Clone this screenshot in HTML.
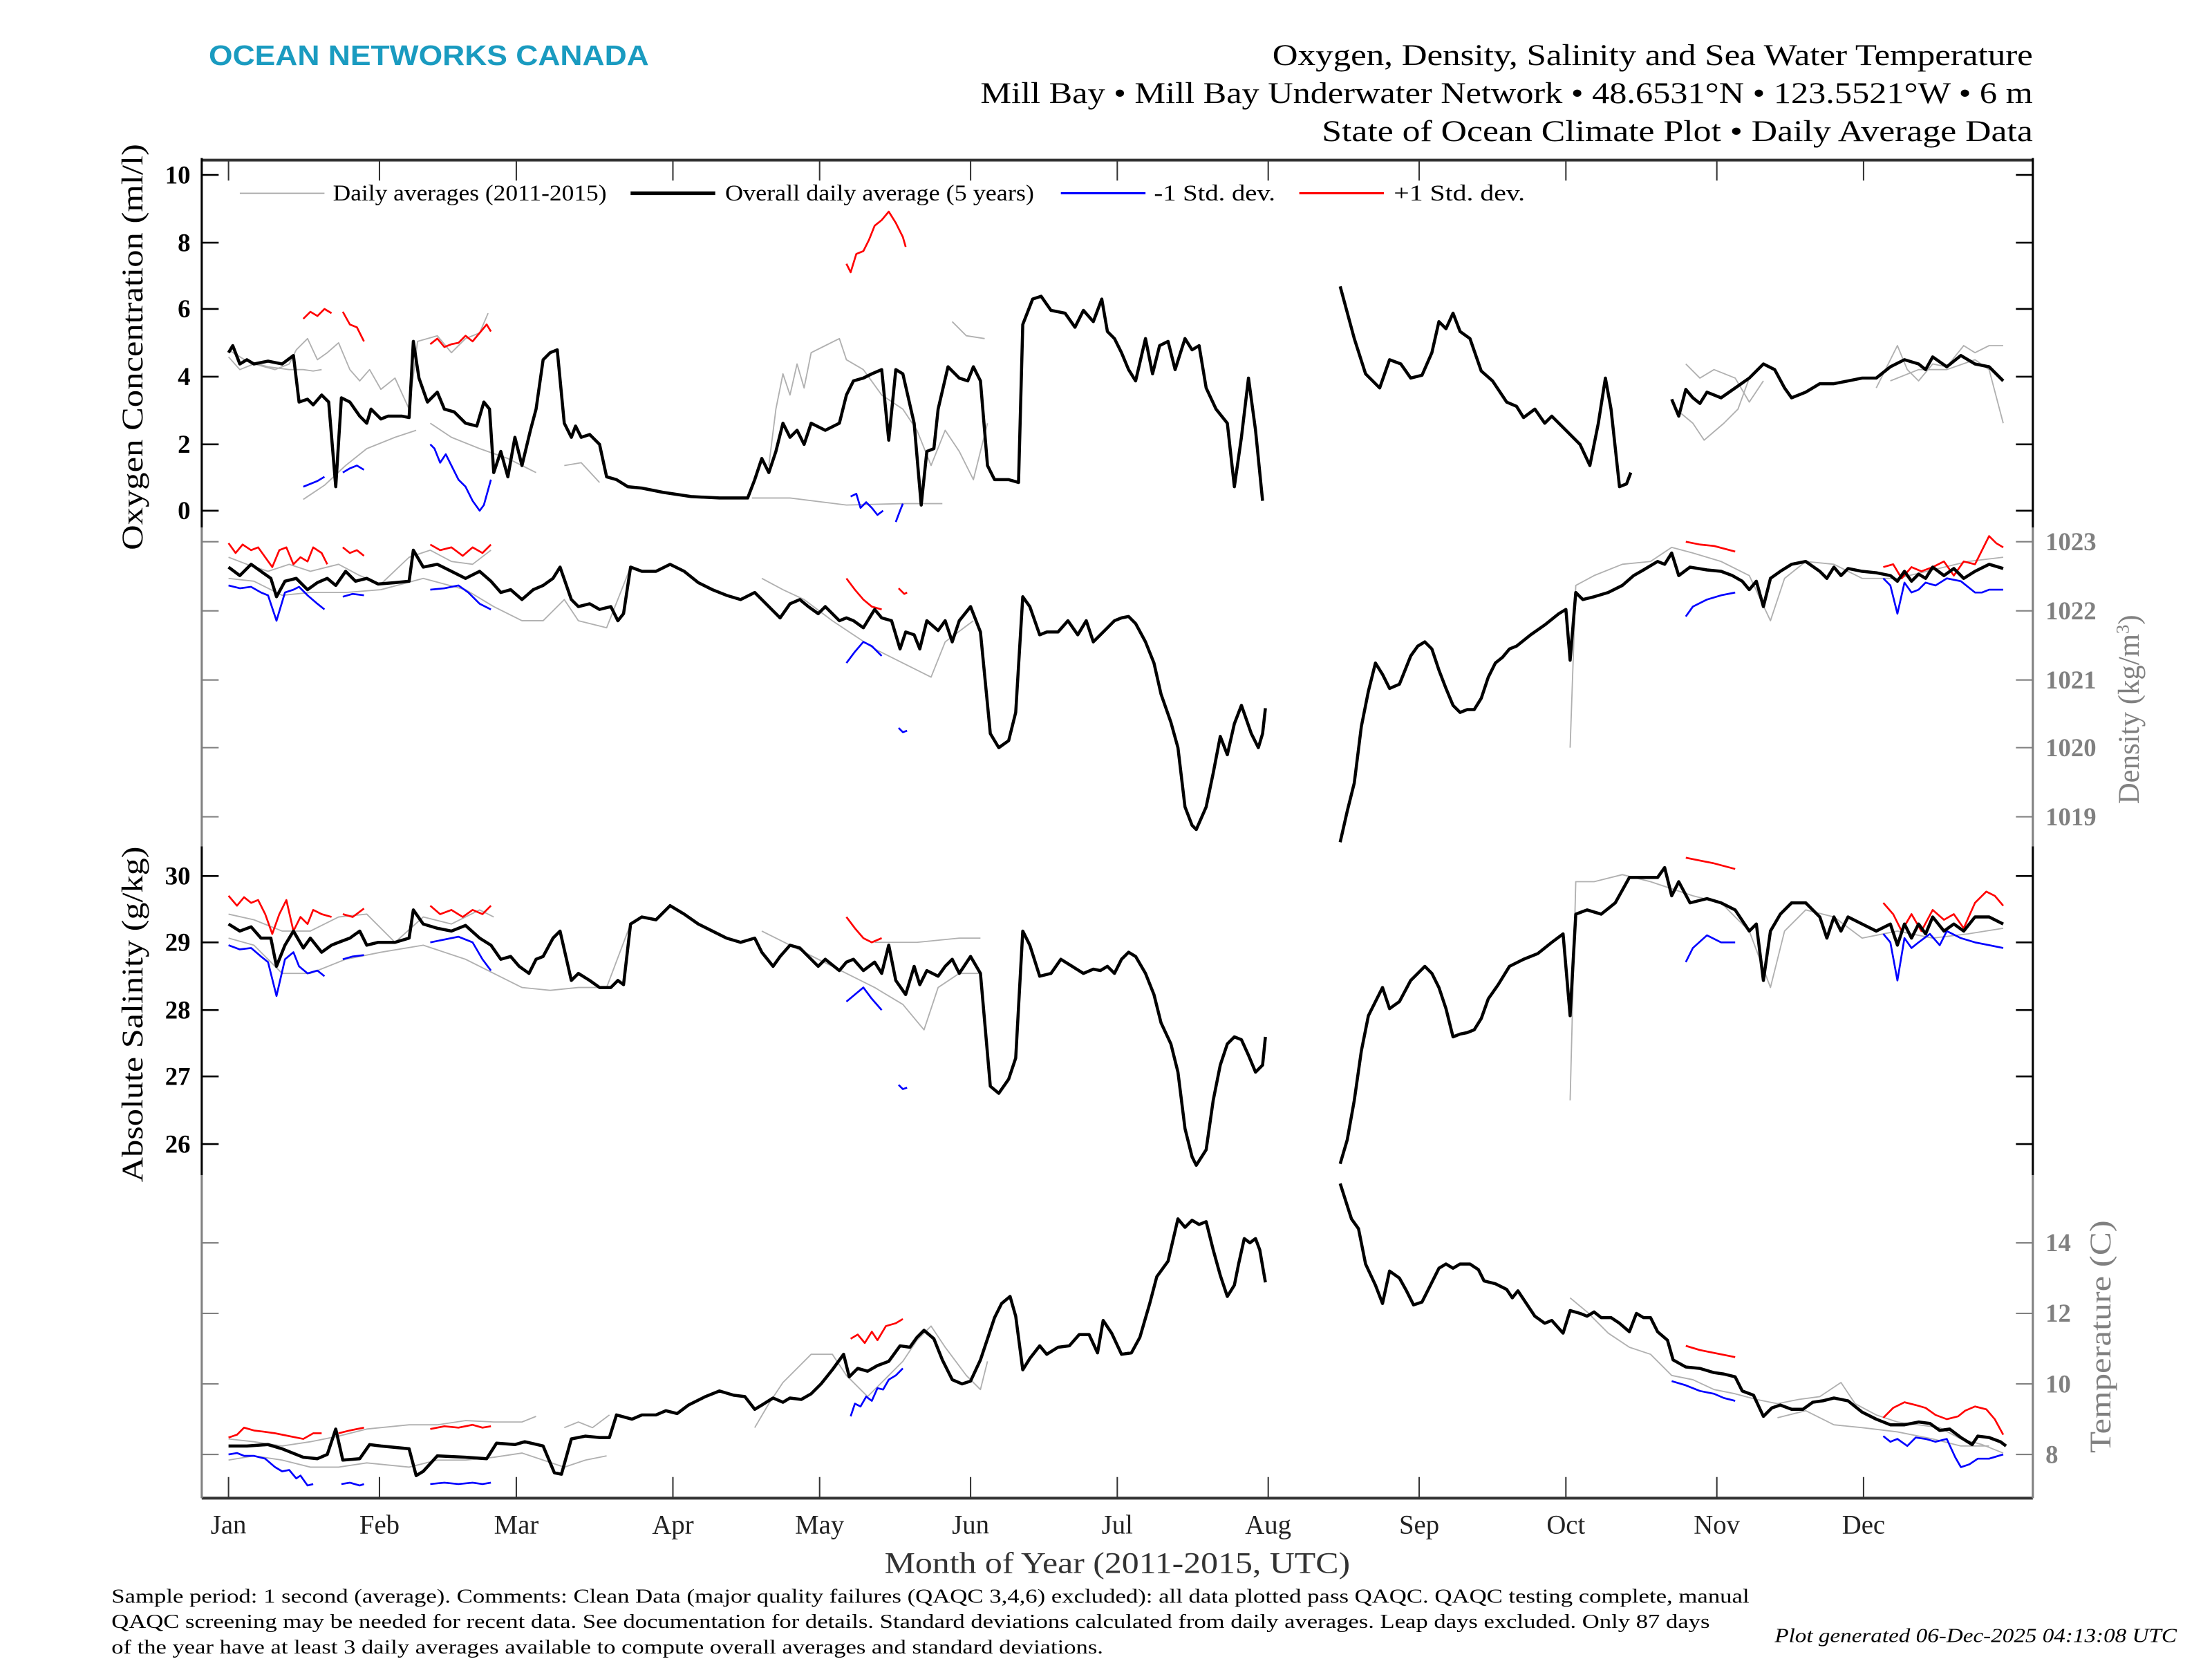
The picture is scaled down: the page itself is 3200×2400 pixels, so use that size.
<!DOCTYPE html>
<html><head><meta charset="utf-8"><style>
html,body{margin:0;padding:0;background:#fff;}
svg{display:block;}
text{font-family:"Liberation Serif",serif;}
</style></head><body>
<svg width="3200" height="2400" viewBox="0 0 1568 1176" preserveAspectRatio="none" xmlns="http://www.w3.org/2000/svg">
<rect width="1568" height="1176" fill="#fff"/>
<!-- header -->
<text x="148" y="46" font-weight="bold" font-size="20" fill="#1a9bc0" textLength="312" lengthAdjust="spacingAndGlyphs" style="font-family:'Liberation Sans',sans-serif">OCEAN NETWORKS CANADA</text>
<g font-size="21" fill="#000">
<text x="902" y="46" textLength="539" lengthAdjust="spacingAndGlyphs">Oxygen, Density, Salinity and Sea Water Temperature</text>
<text x="695" y="73" textLength="746" lengthAdjust="spacingAndGlyphs">Mill Bay • Mill Bay Underwater Network • 48.6531°N • 123.5521°W • 6 m</text>
<text x="937" y="100" textLength="504" lengthAdjust="spacingAndGlyphs">State of Ocean Climate Plot • Daily Average Data</text>
</g>
<!-- frame -->
<line x1="143" y1="113.5" x2="1441" y2="113.5" stroke="#333" stroke-width="2"/>
<line x1="143" y1="1062" x2="1441" y2="1062" stroke="#333" stroke-width="2"/>
<g stroke-width="1.5">
<line x1="143" y1="112" x2="143" y2="374" stroke="#000"/>
<line x1="143" y1="374" x2="143" y2="600" stroke="#808080"/>
<line x1="143" y1="600" x2="143" y2="833" stroke="#000"/>
<line x1="143" y1="833" x2="143" y2="1062" stroke="#808080"/>
<line x1="1441" y1="112" x2="1441" y2="374" stroke="#000"/>
<line x1="1441" y1="374" x2="1441" y2="600" stroke="#808080"/>
<line x1="1441" y1="600" x2="1441" y2="833" stroke="#000"/>
<line x1="1441" y1="833" x2="1441" y2="1062" stroke="#808080"/>
</g>
<!-- month ticks -->
<g stroke="#333" stroke-width="1">
<path d="M162 113v15M269 113v15M366 113v15M477 113v15M581 113v15M688 113v15M792 113v15M899 113v15M1006 113v15M1110 113v15M1217 113v15M1321 113v15"/>
<path d="M162 1062v-15M269 1062v-15M366 1062v-15M477 1062v-15M581 1062v-15M688 1062v-15M792 1062v-15M899 1062v-15M1006 1062v-15M1110 1062v-15M1217 1062v-15M1321 1062v-15"/>
</g>
<g font-size="19" fill="#222" text-anchor="middle">
<text x="162" y="1087">Jan</text><text x="269" y="1087">Feb</text><text x="366" y="1087">Mar</text><text x="477" y="1087">Apr</text><text x="581" y="1087">May</text><text x="688" y="1087">Jun</text><text x="792" y="1087">Jul</text><text x="899" y="1087">Aug</text><text x="1006" y="1087">Sep</text><text x="1110" y="1087">Oct</text><text x="1217" y="1087">Nov</text><text x="1321" y="1087">Dec</text>
</g>
<text x="627" y="1115" font-size="21" fill="#333" textLength="330" lengthAdjust="spacingAndGlyphs">Month of Year (2011-2015, UTC)</text>
<!-- axes ticks -->
<g stroke="#000" stroke-width="1.3">
<path d="M143 124h12M143 172h12M143 219h12M143 267h12M143 315h12M143 362h12"/>
<path d="M1441 124h-12M1441 172h-12M1441 219h-12M1441 267h-12M1441 315h-12M1441 362h-12"/>
<path d="M143 621h12M143 668h12M143 716h12M143 763h12M143 811h12"/>
<path d="M1441 621h-12M1441 668h-12M1441 716h-12M1441 763h-12M1441 811h-12"/>
</g>
<g stroke="#808080" stroke-width="1">
<path d="M143 384h12M143 433h12M143 482h12M143 530h12M143 579h12M1441 384h-12M1441 433h-12M1441 482h-12M1441 530h-12M1441 579h-12"/>
<path d="M143 881h12M143 931h12M143 981h12M143 1031h12M1441 881h-12M1441 931h-12M1441 981h-12M1441 1031h-12"/>
</g>
<g font-size="18" fill="#000" text-anchor="end" font-weight="bold">
<text x="135" y="130">10</text><text x="135" y="178">8</text><text x="135" y="225">6</text><text x="135" y="273">4</text><text x="135" y="321">2</text><text x="135" y="368">0</text>
<text x="135" y="627">30</text><text x="135" y="674">29</text><text x="135" y="722">28</text><text x="135" y="769">27</text><text x="135" y="817">26</text>
</g>
<g font-size="18" fill="#808080" font-weight="bold">
<text x="1450" y="390">1023</text><text x="1450" y="439">1022</text><text x="1450" y="488">1021</text><text x="1450" y="536">1020</text><text x="1450" y="585">1019</text>
<text x="1450" y="887">14</text><text x="1450" y="937">12</text><text x="1450" y="987">10</text><text x="1450" y="1037">8</text>
</g>
<text transform="translate(101,390) rotate(-90)" font-size="21" fill="#000" textLength="288" lengthAdjust="spacingAndGlyphs">Oxygen Concentration (ml/l)</text>
<text transform="translate(101,838) rotate(-90)" font-size="21" fill="#000" textLength="238" lengthAdjust="spacingAndGlyphs">Absolute Salinity (g/kg)</text>
<text transform="translate(1516,570) rotate(-90)" font-size="21" fill="#808080">Density (kg/m<tspan dy="-7" font-size="13">3</tspan><tspan dy="7">)</tspan></text>
<text transform="translate(1496,1030) rotate(-90)" font-size="21" fill="#808080" textLength="165" lengthAdjust="spacingAndGlyphs">Temperature (C)</text>
<!-- legend -->
<g font-size="16" fill="#000">
<line x1="170" y1="137" x2="230" y2="137" stroke="#aaa" stroke-width="1"/><text x="236" y="142" textLength="194" lengthAdjust="spacingAndGlyphs">Daily averages (2011-2015)</text>
<line x1="447" y1="137" x2="507" y2="137" stroke="#000" stroke-width="2.5"/><text x="514" y="142" textLength="219" lengthAdjust="spacingAndGlyphs">Overall daily average (5 years)</text>
<line x1="752" y1="137" x2="812" y2="137" stroke="#00f" stroke-width="1.5"/><text x="818" y="142" textLength="86" lengthAdjust="spacingAndGlyphs">-1 Std. dev.</text>
<line x1="921" y1="137" x2="981" y2="137" stroke="#f00" stroke-width="1.5"/><text x="988" y="142" textLength="93" lengthAdjust="spacingAndGlyphs">+1 Std. dev.</text>
</g>
<g fill="none" stroke-linejoin="round">
<g stroke="#b0b0b0" stroke-width="0.9">
<polyline points="162,253 170,262 180,258 195,262 205,258 210,248 218,240 225,255 232,250 240,243 248,262 255,270 262,262 270,276 280,268 290,290 296,242 310,238 320,250 330,240 340,236 346,222"/>
<polyline points="162,248 175,256 190,260 205,262 215,262 222,263 228,262"/>
<polyline points="215,354 230,344 245,330 260,318 280,310 295,305"/>
<polyline points="305,300 320,310 340,318 360,325 380,335"/>
<polyline points="400,330 412,328 425,342"/>
<polyline points="545,330 550,290 555,265 560,280 565,258 570,275 575,250 585,245 595,240 600,255 612,262 625,280 640,290 650,305 660,330 670,305 680,320 690,340 700,300"/>
<polyline points="533,353 560,353 600,358 640,357 668,357"/>
<polyline points="675,228 685,238 698,240"/>
<polyline points="1195,258 1205,268 1215,262 1230,268 1240,285 1250,270"/>
<polyline points="1188,290 1200,300 1208,312 1222,300 1232,290 1240,268"/>
<polyline points="1330,275 1345,245 1352,262 1360,270 1370,258 1380,260 1392,245 1400,250 1410,245 1420,245"/>
<polyline points="1340,270 1360,262 1380,262 1400,255 1410,262 1420,300"/>
<polyline points="162,395 175,400 190,405 205,400 220,405 240,400 255,408 270,414 290,395 305,390 320,398 335,400 348,390"/>
<polyline points="162,410 180,412 200,422 220,420 245,420 270,418 300,410 330,418 350,430 370,440 385,440 400,425 410,440 430,445 447,402"/>
<polyline points="540,410 555,418 570,425 590,440 605,450 620,460 640,470 660,480 670,455 690,440"/>
<polyline points="1113,530 1117,415 1130,408 1150,400 1170,398 1185,388 1200,392 1220,398 1240,408 1255,440 1265,410 1280,398 1300,400 1320,410 1345,410 1370,404 1395,398 1420,395"/>
<polyline points="162,648 180,652 200,660 220,660 240,650 260,648 280,668 300,650 320,655 340,645 350,650"/>
<polyline points="162,665 180,670 200,690 220,690 245,680 270,675 300,670 330,680 350,690 370,700 390,702 410,700 430,700 447,655"/>
<polyline points="540,660 560,670 580,680 600,690 620,700 640,712 655,730 665,700 680,690 695,690"/>
<polyline points="620,668 650,668 680,665 695,665"/>
<polyline points="1113,780 1117,625 1130,625 1150,620 1170,625 1185,630 1200,635 1220,640 1240,660 1255,700 1265,660 1280,645 1300,650 1320,665 1345,660 1370,665 1395,662 1420,658"/>
<polyline points="162,1020 180,1022 200,1025 220,1022 240,1018 260,1013 290,1010 310,1010 330,1007 350,1008 370,1008 380,1004"/>
<polyline points="162,1035 180,1032 200,1035 220,1040 240,1040 260,1037 290,1040 310,1035 330,1035 350,1033 370,1030 385,1035 400,1040"/>
<polyline points="400,1012 410,1008 420,1012 432,1003"/>
<polyline points="400,1040 415,1035 430,1032"/>
<polyline points="535,1012 545,995 555,980 565,970 575,960 590,960 600,975 615,990 630,975 640,965 650,950 660,940 670,955 685,975 695,985 700,965"/>
<polyline points="1113,920 1125,930 1140,945 1155,955 1170,960 1185,975 1200,978 1215,985 1230,988 1245,992 1260,995 1275,992 1290,990 1305,980 1315,995 1330,1003 1345,1008 1360,1010 1375,1012 1390,1020 1405,1024 1420,1030"/>
<polyline points="1260,1005 1280,1000 1300,1010 1320,1012 1345,1015 1370,1020 1390,1025 1410,1025"/>
</g>
<g stroke="#f00" stroke-width="1.3">
<polyline points="215,226 220,221 225,224 230,219 235,222"/>
<polyline points="243,221 248,230 253,232 258,242"/>
<polyline points="305,244 310,240 315,246 320,244 325,243 330,238 335,242 340,236 345,230 348,235"/>
<polyline points="600,187 603,193 607,180 612,178 616,170 620,160 625,156 630,150 635,158 640,168 642,175"/>
<polyline points="162,385 167,392 172,386 178,390 183,388 188,395 193,402 198,390 203,388 208,400 213,395 218,398 222,388 228,392 232,400"/>
<polyline points="243,388 248,392 253,390 258,394"/>
<polyline points="305,386 312,390 320,388 328,394 335,388 342,392 348,386"/>
<polyline points="600,410 606,418 612,425 618,430 625,432"/>
<polyline points="637,417 641,421 643,420"/>
<polyline points="1195,384 1205,386 1215,387 1230,391"/>
<polyline points="1335,402 1342,400 1348,410 1355,402 1362,405 1370,402 1378,398 1385,408 1392,398 1400,400 1410,380 1415,385 1420,388"/>
<polyline points="162,635 168,642 173,636 178,640 183,638 188,648 193,662 198,648 203,638 208,660 213,650 218,655 222,645 228,648 235,650"/>
<polyline points="243,648 250,650 258,644"/>
<polyline points="305,642 312,648 320,645 328,650 335,645 342,648 348,642"/>
<polyline points="600,650 606,658 612,665 618,668 625,665"/>
<polyline points="1195,608 1205,610 1215,612 1230,616"/>
<polyline points="1335,640 1342,648 1348,660 1355,648 1362,660 1370,645 1378,652 1385,648 1392,658 1400,640 1408,632 1414,635 1420,642"/>
<polyline points="162,1019 168,1017 173,1012 180,1014 188,1015 195,1016 205,1018 215,1020 222,1016 228,1016"/>
<polyline points="240,1016 248,1014 258,1012"/>
<polyline points="305,1013 315,1011 325,1012 335,1010 342,1012 348,1011"/>
<polyline points="603,949 608,946 613,952 618,944 622,950 628,940 635,938 640,935"/>
<polyline points="1195,954 1205,957 1215,959 1230,962"/>
<polyline points="1335,1005 1342,998 1350,994 1358,996 1365,998 1372,1003 1380,1006 1388,1004 1393,1000 1400,997 1408,999 1414,1006 1420,1017"/>
</g>
<g stroke="#00f" stroke-width="1.3">
<polyline points="215,345 220,343 225,341 230,338"/>
<polyline points="243,335 248,332 253,330 258,333"/>
<polyline points="305,315 308,318 312,328 316,322 320,330 325,340 330,345 335,355 340,362 343,358 348,340"/>
<polyline points="603,352 607,350 610,360 614,356 618,360 622,365 626,362"/>
<polyline points="635,370 638,362 640,357"/>
<polyline points="162,415 170,417 178,416 185,420 190,422 196,440 202,420 208,418 212,416 218,422 225,428 230,432"/>
<polyline points="243,423 250,421 258,422"/>
<polyline points="305,418 315,417 325,415 332,420 340,428 348,432"/>
<polyline points="600,470 606,462 612,455 618,458 625,465"/>
<polyline points="637,516 640,519 643,518"/>
<polyline points="1195,437 1200,430 1210,425 1220,422 1230,420"/>
<polyline points="1335,410 1340,415 1345,435 1350,413 1355,420 1360,418 1365,413 1372,415 1380,410 1390,412 1400,420 1405,420 1410,418 1420,418"/>
<polyline points="162,670 170,673 178,672 185,678 190,682 196,706 202,680 208,675 212,685 218,690 225,688 230,692"/>
<polyline points="243,680 250,678 258,677"/>
<polyline points="305,668 315,666 325,664 335,668 342,680 348,688"/>
<polyline points="600,710 606,705 612,700 618,708 625,716"/>
<polyline points="637,769 640,772 643,771"/>
<polyline points="1195,682 1200,672 1210,663 1220,668 1230,668"/>
<polyline points="1335,662 1340,668 1345,695 1350,665 1355,672 1360,668 1368,662 1375,670 1380,660 1390,665 1400,668 1410,670 1420,672"/>
<polyline points="162,1031 168,1030 173,1032 180,1032 188,1034 195,1040 200,1043 205,1042 210,1048 213,1046 218,1053 222,1052"/>
<polyline points="242,1052 248,1051 255,1053 258,1052"/>
<polyline points="305,1052 315,1051 325,1052 335,1051 342,1052 348,1051"/>
<polyline points="603,1004 606,995 610,997 614,990 618,993 622,984 626,985 630,978 635,975 640,970"/>
<polyline points="1185,979 1195,982 1205,986 1215,988 1222,991 1230,993"/>
<polyline points="1335,1018 1340,1022 1345,1020 1352,1025 1358,1019 1365,1020 1372,1022 1380,1020 1386,1033 1390,1040 1396,1038 1402,1034 1410,1034 1420,1031"/>
</g>
<g stroke="#000" stroke-width="2.2">
<polyline points="162,250 165,245 170,258 175,255 180,258 190,256 200,258 208,252 212,285 218,283 222,287 228,280 233,285 238,345 242,282 248,285 255,295 260,300 263,290 270,297 275,295 285,295 290,296 293,242 297,268 303,285 310,278 315,290 322,292 330,300 338,302 343,285 347,290 350,335 355,320 360,338 365,310 370,330 376,305 380,290 385,255 390,250 395,248 400,300 405,310 408,302 412,310 418,308 425,315 430,338 437,340 445,345 455,346 470,349 490,352 510,353 530,353 535,340 540,325 545,335 550,320 555,300 560,310 565,305 570,315 575,300 585,305 595,300 600,280 605,270 612,268 618,265 625,262 630,312 635,262 640,265 648,300 653,358 657,320 662,318 665,290 672,260 680,268 686,270 690,260 695,270 700,330 705,340 715,340 722,342 725,230 732,212 738,210 745,220 755,222 762,232 768,220 775,228 781,212 785,235 790,240 795,250 800,262 805,270 812,240 817,265 822,245 828,242 833,262 840,240 845,248 850,245 855,275 862,290 870,300 875,345 880,310 885,268 890,305 895,355"/>
<polyline points="950,203 960,240 968,265 978,275 985,255 993,258 1000,268 1008,266 1015,250 1020,228 1025,233 1030,222 1035,235 1042,240 1050,263 1058,270 1068,285 1075,288 1080,296 1088,290 1095,300 1100,295 1110,305 1120,315 1127,330 1133,300 1138,268 1142,290 1148,345 1153,343 1156,335"/>
<polyline points="1185,283 1190,295 1195,276 1200,282 1205,286 1210,278 1220,282 1230,275 1240,268 1250,258 1258,262 1265,275 1270,282 1280,278 1290,272 1300,272 1310,270 1320,268 1330,268 1340,260 1350,255 1360,258 1365,262 1370,253 1380,260 1390,252 1400,258 1410,260 1420,270"/>
<polyline points="162,402 170,408 178,400 185,405 192,410 196,423 202,412 210,410 218,418 225,413 232,410 238,415 245,405 252,412 260,410 268,414 280,413 290,412 293,390 300,402 310,400 320,405 330,410 340,405 348,412 355,420 362,418 370,425 378,418 385,415 392,410 397,402 405,425 410,430 418,428 425,432 433,430 438,440 442,435 447,402 455,405 465,405 475,400 485,405 495,413 505,418 515,422 525,425 535,420 540,425 548,433 553,438 560,428 567,425 573,430 580,435 585,430 595,440 600,438 605,440 612,445 620,432 625,438 632,440 638,460 642,448 648,450 652,460 657,440 665,447 670,440 675,455 680,440 688,430 695,448 702,520 708,530 715,525 720,505 725,423 730,430 737,450 742,448 750,448 757,440 764,450 770,440 775,455 780,450 785,445 790,440 795,438 800,437 805,442 812,455 818,470 823,492 830,512 835,530 840,572 845,585 848,588 855,572 860,548 865,522 870,535 875,513 880,500 887,520 892,530 895,520 897,502"/>
<polyline points="950,597 955,575 960,555 965,515 970,490 975,470 980,478 985,488 992,485 1000,465 1005,458 1010,455 1015,460 1020,475 1025,488 1030,500 1035,505 1040,503 1045,503 1050,495 1055,480 1060,470 1065,466 1070,460 1075,458 1085,450 1095,443 1105,435 1110,432 1113,468 1117,420 1122,425 1130,423 1140,420 1150,415 1158,408 1165,404 1175,398 1180,400 1185,392 1190,408 1198,402 1210,404 1220,405 1228,408 1235,412 1240,418 1245,412 1250,430 1255,410 1262,405 1270,400 1280,398 1290,405 1295,410 1300,402 1305,408 1310,403 1320,405 1330,406 1340,408 1345,412 1350,405 1355,412 1360,407 1365,410 1370,402 1378,408 1385,403 1392,410 1400,405 1410,400 1420,403"/>
<polyline points="162,655 170,660 178,657 185,665 192,665 196,685 202,670 208,660 215,672 220,665 228,675 235,670 240,668 248,665 255,660 260,670 268,668 280,668 290,665 293,645 300,655 310,658 320,660 330,656 340,665 348,670 355,680 362,678 368,685 375,690 380,680 385,678 392,665 397,660 405,695 410,690 418,695 425,700 433,700 438,695 442,698 447,655 455,650 465,652 475,642 485,648 495,655 505,660 515,665 525,668 535,665 540,675 548,685 553,678 560,670 567,672 573,678 580,685 585,680 595,688 600,682 605,680 612,688 620,682 625,690 630,670 635,695 642,705 648,685 652,698 657,688 665,692 670,685 675,680 680,690 688,678 695,690 702,770 708,775 715,765 720,750 725,660 730,670 737,692 745,690 752,680 760,685 768,690 775,687 780,688 785,685 790,690 795,680 800,675 805,678 812,690 818,705 823,725 830,740 835,760 840,800 845,820 848,826 855,815 860,780 865,755 870,740 875,735 880,737 885,748 890,760 895,755 897,735"/>
<polyline points="950,825 955,808 960,780 965,745 970,720 975,710 980,700 985,715 992,710 1000,695 1005,690 1010,685 1015,690 1020,700 1025,715 1030,735 1035,733 1040,732 1045,730 1050,722 1055,708 1062,698 1070,685 1080,680 1090,676 1100,668 1108,662 1113,720 1117,648 1125,645 1135,648 1145,640 1155,622 1165,622 1175,622 1180,615 1185,635 1190,625 1198,640 1210,637 1220,640 1230,645 1240,660 1245,655 1250,695 1255,660 1262,648 1270,640 1280,640 1290,650 1295,665 1300,650 1305,660 1310,650 1320,655 1330,660 1340,655 1345,670 1350,655 1355,665 1360,655 1365,662 1370,650 1378,660 1385,655 1392,660 1400,650 1410,650 1420,655"/>
<polyline points="162,1025 175,1025 190,1024 200,1027 215,1033 225,1034 232,1031 238,1013 243,1035 255,1034 262,1024 270,1025 290,1027 295,1046 300,1043 310,1032 330,1033 345,1034 352,1023 365,1024 372,1022 385,1025 393,1044 398,1045 405,1020 415,1018 425,1019 432,1019 437,1003 448,1006 455,1003 465,1003 472,1000 480,1002 488,996 500,990 510,986 520,989 528,990 535,999 540,996 548,991 555,994 560,991 568,992 575,988 582,981 590,971 598,960 602,976 608,970 615,972 622,968 630,965 638,954 645,955 650,948 655,943 662,949 668,964 675,978 682,981 688,979 695,964 700,949 705,934 710,924 716,919 720,933 725,971 730,963 737,954 742,960 750,955 758,954 765,946 772,946 778,959 782,936 788,945 795,960 802,959 808,948 815,924 820,905 828,894 835,864 840,870 845,865 850,868 855,866 860,886 865,904 870,919 875,911 878,896 882,878 886,881 890,878 893,886 897,909"/>
<polyline points="950,839 958,864 963,871 968,896 975,911 980,924 985,901 992,906 997,915 1002,925 1008,923 1015,909 1020,899 1025,896 1030,899 1035,896 1042,896 1048,900 1052,908 1060,910 1068,914 1072,920 1076,915 1082,924 1088,933 1095,938 1100,936 1108,945 1113,929 1120,931 1125,933 1130,930 1135,934 1142,934 1148,938 1155,944 1160,931 1165,934 1170,934 1175,944 1182,950 1186,964 1195,969 1205,970 1215,973 1222,974 1230,976 1235,986 1243,989 1250,1004 1256,998 1262,996 1270,999 1278,999 1285,994 1292,993 1300,991 1310,993 1320,1001 1330,1006 1340,1010 1350,1010 1360,1008 1368,1009 1375,1014 1382,1013 1390,1019 1398,1024 1402,1018 1410,1019 1418,1022 1422,1025"/>
</g>
</g>
<!-- footer -->
<g font-size="14" fill="#000">
<text x="79" y="1136" textLength="1161" lengthAdjust="spacingAndGlyphs">Sample period: 1 second (average). Comments: Clean Data (major quality failures (QAQC 3,4,6) excluded): all data plotted pass QAQC. QAQC testing complete, manual</text>
<text x="79" y="1154" textLength="1133" lengthAdjust="spacingAndGlyphs">QAQC screening may be needed for recent data. See documentation for details. Standard deviations calculated from daily averages. Leap days excluded. Only 87 days</text>
<text x="79" y="1172" textLength="703" lengthAdjust="spacingAndGlyphs">of the year have at least 3 daily averages available to compute overall averages and standard deviations.</text>
<text x="1258" y="1164" font-style="italic" textLength="285" lengthAdjust="spacingAndGlyphs">Plot generated 06-Dec-2025 04:13:08 UTC</text>
</g>
</svg>
</body></html>
